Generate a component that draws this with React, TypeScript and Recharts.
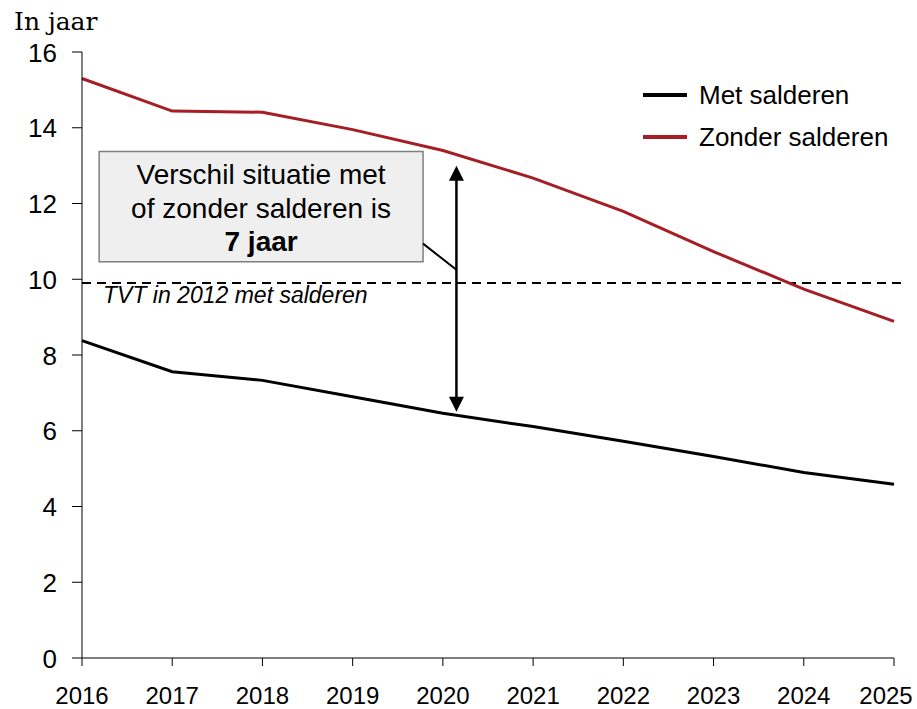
import React from 'react'
import {
  LineChart,
  Line,
  XAxis,
  YAxis,
  Legend,
  ReferenceLine,
  ReferenceArea
} from 'recharts'

// Terugverdientijd (in jaar)
const years = [2016, 2017, 2018, 2019, 2020, 2021, 2022, 2023, 2024, 2025]
const metSalderen = [8.38, 7.56, 7.33, 6.9, 6.46, 6.11, 5.72, 5.32, 4.9, 4.59]
const zonderSalderen = [15.3, 14.44, 14.41, 13.95, 13.4, 12.67, 11.79, 10.73, 9.74, 8.89]
const yTicks = [0, 2, 4, 6, 8, 10, 12, 14, 16]

// annotation values
const tvtLevel = 9.9
const arrowYear = 2020.15
const arrowTop = 13.0
const arrowBottom = 6.5
const boxYears = [2016.19, 2019.78]
const boxLevels = [10.46, 13.37]
const connectorFrom = { x: 2019.78, y: 10.94 }
const boxLines = ['Verschil situatie met', 'of zonder salderen is', '7 jaar']

const WIDTH = 917
const HEIGHT = 709
const RED = '#a51e24'
const SANS = '"Liberation Sans", Arial, sans-serif'

const chartData = years.map((year, i) => ({
  year,
  met: metSalderen[i],
  zonder: zonderSalderen[i]
}))

// keep the last year label inside the picture, like the reference does
const XTick = ({ x, y, payload }: any) => (
  <text
    x={Math.min(x, WIDTH - 31)}
    y={y}
    dy={17}
    textAnchor="middle"
    fontFamily={SANS}
    fontSize={24}
    fill="#000"
  >
    {payload.value}
  </text>
)

const YTick = ({ x, y, payload }: any) => (
  <text x={x} y={y} dy={9.5} textAnchor="end" fontFamily={SANS} fontSize={26} fill="#000">
    {payload.value}
  </text>
)

const DashedLevel = (props: any) => {
  const left = Math.min(props.x1, props.x2)
  const right = Math.max(props.x1, props.x2)
  return (
    <g>
      <line
        x1={left}
        y1={props.y1}
        x2={right + 12}
        y2={props.y1}
        stroke="#000"
        strokeWidth={2}
        strokeDasharray="9 6"
      />
      <text
        x={left + 21}
        y={props.y1 + 20}
        fontFamily={SANS}
        fontSize={23}
        fontStyle="italic"
        fill="#000"
      >
        TVT in 2012 met salderen
      </text>
    </g>
  )
}

const DoubleArrow = (props: any) => {
  const x = props.x1
  const top = Math.min(props.y1, props.y2)
  const bottom = Math.max(props.y1, props.y2)
  const head = 15
  const half = 7.5
  return (
    <g>
      <line x1={x} y1={top + head - 1} x2={x} y2={bottom - head + 1} stroke="#000" strokeWidth={2.5} />
      <polygon points={`${x},${top} ${x - half},${top + head} ${x + half},${top + head}`} fill="#000" />
      <polygon points={`${x},${bottom} ${x - half},${bottom - head} ${x + half},${bottom - head}`} fill="#000" />
    </g>
  )
}

const BoxLabel = (props: any) => {
  const { x, y, width } = props.viewBox
  const cx = x + width / 2
  return (
    <g fontFamily={SANS} fontSize={28} fill="#000" textAnchor="middle">
      <text x={cx} y={y + 32}>{boxLines[0]}</text>
      <text x={cx} y={y + 66}>{boxLines[1]}</text>
      <text x={cx} y={y + 99} fontWeight="bold">{boxLines[2]}</text>
    </g>
  )
}

const UnitLabel = (props: any) => {
  const { x, y } = props.viewBox
  return (
    <text x={x + 14} y={y - 22} fontFamily='"DejaVu Serif", serif' fontSize={25} fill="#000">
      In jaar
    </text>
  )
}

const LegendContent = ({ payload }: any) => (
  <div style={{ fontFamily: SANS, fontSize: 26, color: '#000' }}>
    {(payload || []).map((entry: any) => (
      <div key={entry.value} style={{ display: 'flex', alignItems: 'center', height: 42 }}>
        <div style={{ width: 44, height: 4, background: entry.color, marginRight: 12 }} />
        <span style={{ lineHeight: '42px', whiteSpace: 'nowrap' }}>{entry.value}</span>
      </div>
    ))}
  </div>
)

export default function App() {
  return (
    <div style={{ position: 'absolute', left: 0, top: 0, background: '#fff' }}>
      <LineChart
        width={WIDTH}
        height={HEIGHT}
        data={chartData}
        margin={{ top: 52, right: 23, left: 0, bottom: 0 }}
      >
        <XAxis
          dataKey="year"
          type="number"
          domain={[2016, 2025]}
          ticks={years}
          interval={0}
          height={51}
          tickSize={8}
          tickMargin={21}
          stroke="#000"
          tick={<XTick />}
        />
        <YAxis
          domain={[0, 16]}
          ticks={yTicks}
          width={82}
          tickSize={10}
          tickMargin={15}
          stroke="#000"
          tick={<YTick />}
          label={<UnitLabel />}
        />
        <ReferenceLine y={tvtLevel} shape={<DashedLevel />} />
        <ReferenceArea
          x1={boxYears[0]}
          x2={boxYears[1]}
          y1={boxLevels[0]}
          y2={boxLevels[1]}
          fill="#efefef"
          fillOpacity={1}
          stroke="#7f7f7f"
          strokeWidth={1.5}
          label={<BoxLabel />}
        />
        <ReferenceLine
          segment={[connectorFrom, { x: arrowYear, y: tvtLevel + 0.35 }]}
          stroke="#000"
          strokeWidth={2}
        />
        <Line
          type="linear"
          dataKey="met"
          name="Met salderen"
          stroke="#000"
          strokeWidth={3}
          dot={false}
          activeDot={false}
          isAnimationActive={false}
        />
        <Line
          type="linear"
          dataKey="zonder"
          name="Zonder salderen"
          stroke={RED}
          strokeWidth={3}
          dot={false}
          activeDot={false}
          isAnimationActive={false}
        />
        <ReferenceLine
          segment={[{ x: arrowYear, y: arrowTop }, { x: arrowYear, y: arrowBottom }]}
          shape={<DoubleArrow />}
        />
        <Legend
          layout="horizontal"
          verticalAlign="middle"
          align="center"
          wrapperStyle={{ top: 74, left: 643, width: 'auto' }}
          content={<LegendContent />}
        />
      </LineChart>
    </div>
  )
}
